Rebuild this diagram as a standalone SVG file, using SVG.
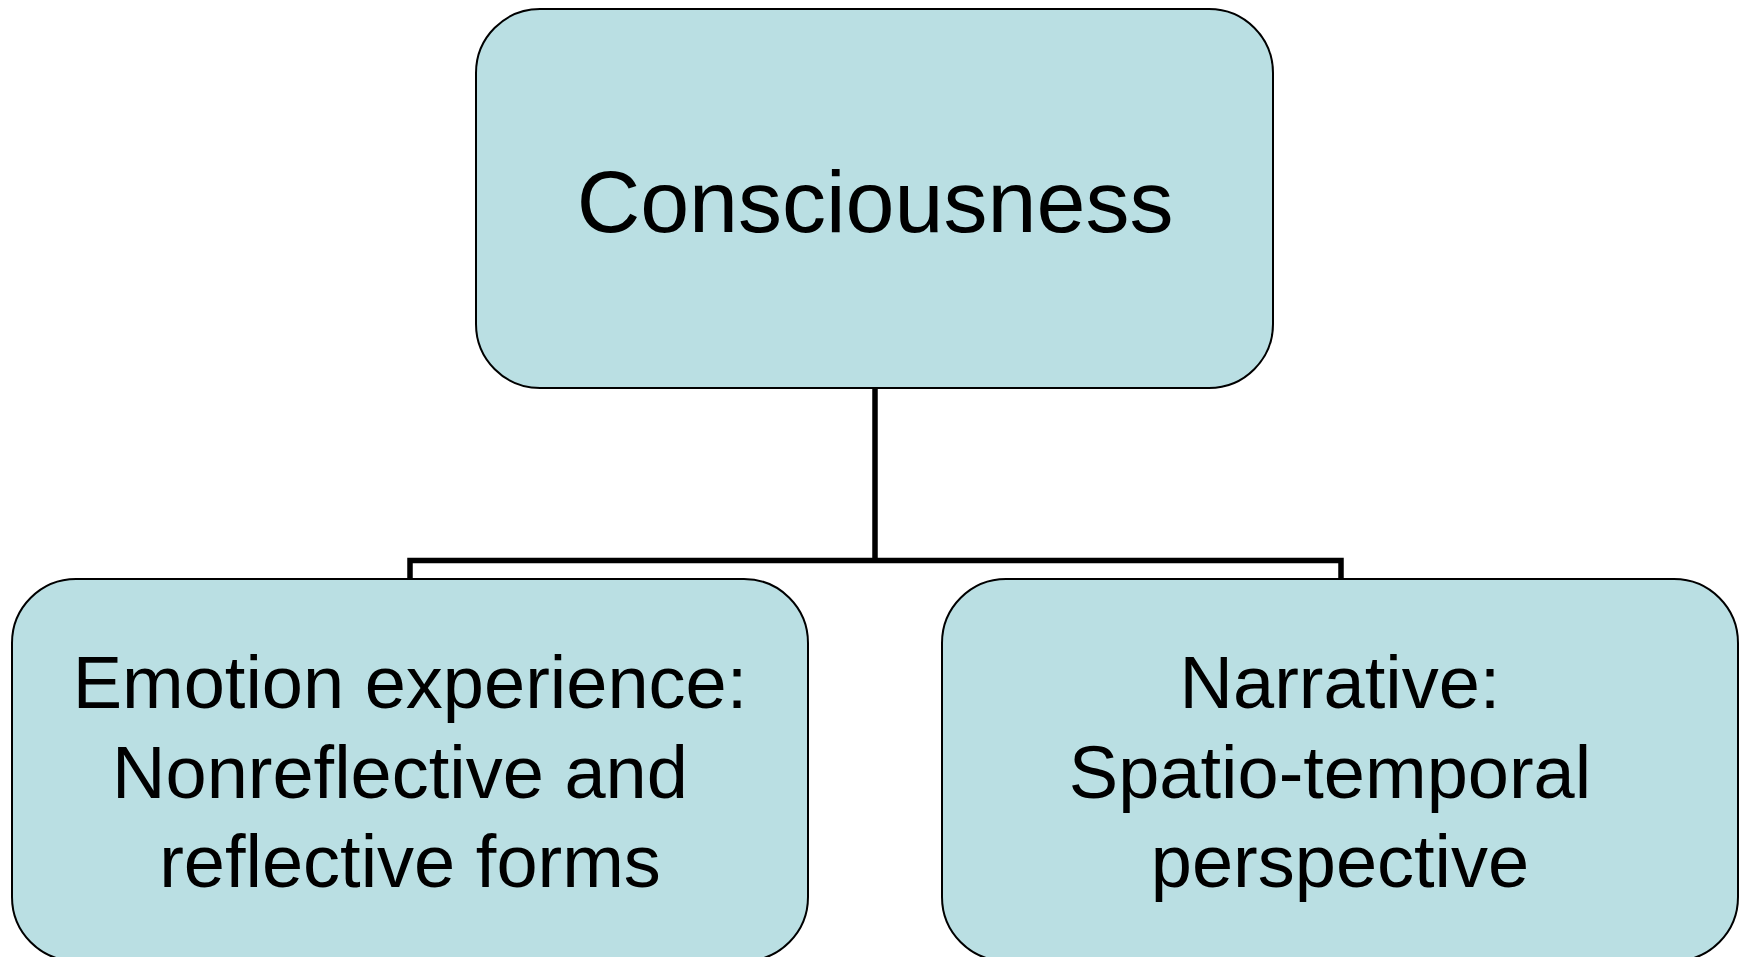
<svg xmlns="http://www.w3.org/2000/svg" width="1747" height="957" viewBox="0 0 1747 957">
<style>
.box{fill:#BADFE3;stroke:#000;stroke-width:2}
.t{font-family:"Liberation Sans",Arial,sans-serif;fill:#000;text-anchor:middle}
.conn{fill:none;stroke:#000;stroke-width:5.5}
</style>
<rect width="1747" height="957" fill="#fff"/>
<g id="connectors">
<path class="conn" d="M875 388 V560.5"/>
<path class="conn" d="M410 579 V560.5 H1341 V579"/>
</g>
<g id="consciousness">
<rect class="box" x="476" y="9" width="797" height="379" rx="64" ry="64"/>
<text class="t" x="875" y="232" font-size="88">Consciousness</text>
</g>
<g id="emotion">
<rect class="box" x="12" y="579" width="796" height="382" rx="64" ry="64"/>
<text class="t" font-size="74"><tspan x="410" y="708">Emotion experience:</tspan><tspan x="400" y="798">Nonreflective and</tspan><tspan x="410" y="887">reflective forms</tspan></text>
</g>
<g id="narrative">
<rect class="box" x="942" y="579" width="796" height="382" rx="64" ry="64"/>
<text class="t" font-size="74"><tspan x="1340" y="708">Narrative:</tspan><tspan x="1330" y="798">Spatio-temporal</tspan><tspan x="1340" y="887">perspective</tspan></text>
</g>
</svg>
